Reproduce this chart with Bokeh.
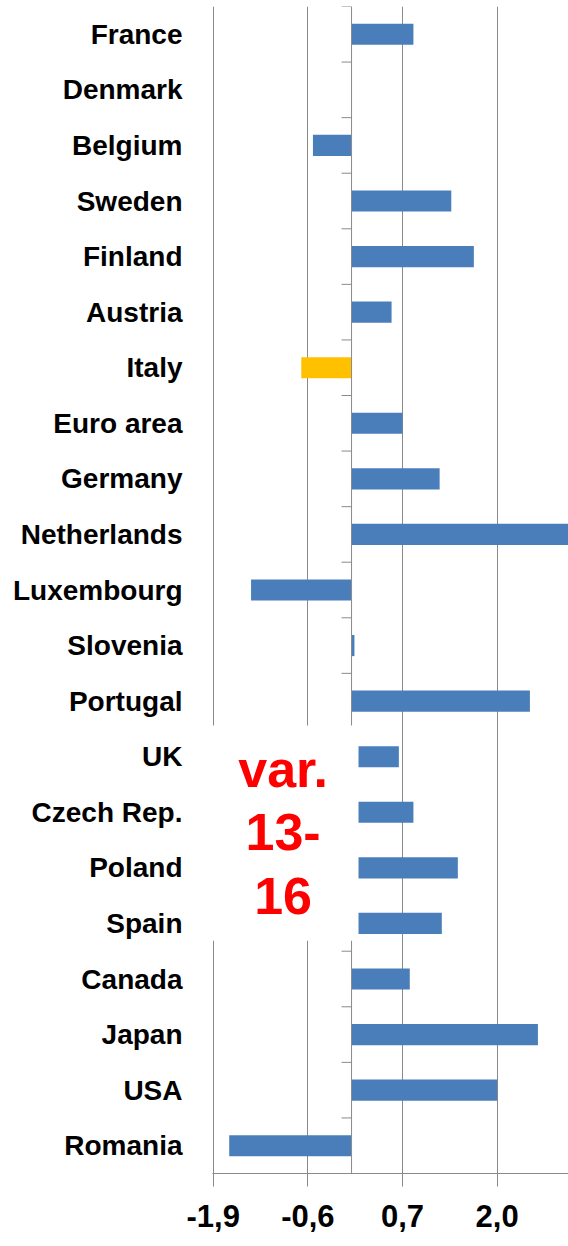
from bokeh.plotting import figure
from bokeh.models import FactorRange, Range1d, FixedTicker, ColumnDataSource
from bokeh.core.properties import value
from bokeh.embed import file_html
from bokeh.resources import INLINE

countries = ["France", "Denmark", "Belgium", "Sweden", "Finland", "Austria", "Italy",
             "Euro area", "Germany", "Netherlands", "Luxembourg", "Slovenia", "Portugal",
             "UK", "Czech Rep.", "Poland", "Spain", "Canada", "Japan", "USA", "Romania"]
values = [0.85, 0.0, -0.53, 1.37, 1.68, 0.55, -0.69,
          0.70, 1.21, 3.20, -1.38, 0.04, 2.45,
          0.65, 0.85, 1.46, 1.24, 0.80, 2.56, 2.00, -1.68]
highlight = ["Italy"]
tick_vals = [-1.9, -0.6, 0.7, 2.0]
tick_labels = ["-1,9", "-0,6", "0,7", "2,0"]
note_lines = ["var.", "13-", "16"]

BLUE = "#4a7ebb"
ORANGE = "#ffc000"
GRAY = "#8a8a8a"
FONT = "Liberation Sans"

colors = [ORANGE if c in highlight else BLUE for c in countries]
src = ColumnDataSource(dict(country=countries, value=values, color=colors))

p = figure(width=568, height=1246,
           y_range=FactorRange(factors=countries[::-1]),
           x_range=Range1d(-1.9096, 2.98),
           output_backend="svg", toolbar_location=None,
           min_border_left=212, min_border_right=0, min_border_top=6, min_border_bottom=73)
p.outline_line_color = None
p.background_fill_color = "white"
p.border_fill_color = "white"

p.hbar(y="country", left=0, right="value", height=0.38, fill_color="color",
       line_color=None, source=src)

# category axis at zero with boundary ticks
p.segment(x0=[0], y0=[(countries[0], 0.5)], x1=[0], y1=[(countries[-1], -0.5)],
          line_color=GRAY, line_width=1)
bounds = [(c, 0.5) for c in countries]
p.segment(x0=[-0.137] * len(bounds), y0=bounds, x1=[0] * len(bounds), y1=bounds,
          line_color=GRAY, line_width=1)

# white note box
p.quad(left=[-3], right=[0.096], top=[("UK", 0.56)], bottom=[("Spain", -0.31)],
       fill_color="white", line_color=None)
p.text(x=[-0.94] * 3, y=[("Czech Rep.", 0.78), ("Poland", 0.64), ("Spain", 0.50)],
       text=note_lines, text_align="center", text_baseline="alphabetic",
       text_font=value(FONT), text_font_style="bold", text_font_size="52px",
       text_color="#ff0000")

# x axis
p.xaxis.ticker = FixedTicker(ticks=tick_vals)
p.xaxis.major_label_overrides = dict(zip(tick_vals, tick_labels))
p.xaxis.axis_line_color = GRAY
p.xaxis.major_tick_line_color = GRAY
p.xaxis.major_tick_out = 13
p.xaxis.major_tick_in = 0
p.xaxis.minor_tick_line_color = None
p.xaxis.major_label_text_font = FONT
p.xaxis.major_label_text_font_style = "bold"
p.xaxis.major_label_text_font_size = "31px"
p.xaxis.major_label_text_color = "black"
p.xaxis.major_label_standoff = 18

p.xgrid.ticker = FixedTicker(ticks=tick_vals)
p.xgrid.grid_line_color = GRAY
p.xgrid.grid_line_width = 1
p.ygrid.grid_line_color = None

# y axis (labels only)
p.yaxis.axis_line_color = None
p.yaxis.major_tick_line_color = None
p.yaxis.minor_tick_line_color = None
p.yaxis.major_tick_out = 0
p.yaxis.major_tick_in = 0
p.yaxis.major_label_standoff = 30
p.yaxis.major_label_text_font = FONT
p.yaxis.major_label_text_font_style = "bold"
p.yaxis.major_label_text_font_size = "28px"
p.yaxis.major_label_text_color = "black"

open("out.html", "w").write(file_html(p, INLINE))
